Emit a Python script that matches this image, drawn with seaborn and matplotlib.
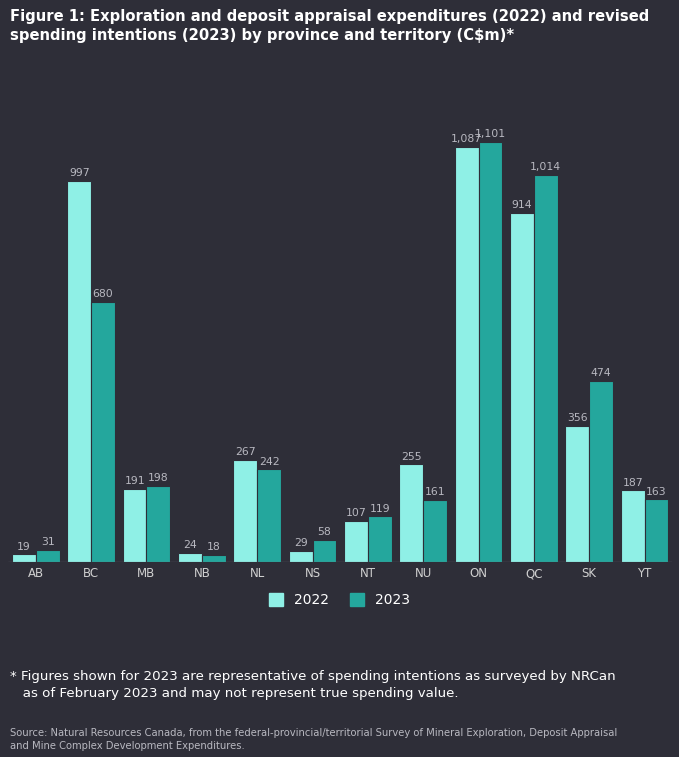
import matplotlib
matplotlib.use("Agg")
import matplotlib.pyplot as plt
import seaborn as sns
import pandas as pd

provinces = ["AB","BC","MB","NB","NL","NS","NT","NU","ON","QC","SK","YT"]
v2022 = [19,997,191,24,267,29,107,255,1087,914,356,187]
v2023 = [31,680,198,18,242,58,119,161,1101,1014,474,163]
years = ["2022","2023"]

df = pd.DataFrame({"prov": provinces*2, "year": ["2022"]*12+["2023"]*12, "val": v2022+v2023})

bg = "#2e2e38"
c22, c23 = "#8ff0e6", "#24a79d"
sns.set_style("dark")
plt.rcParams['font.family'] = ['DejaVu Sans']
fig = plt.figure(figsize=(6.79,7.57), dpi=100, facecolor=bg)
ax = fig.add_axes([0.012, 0.258, 0.978, 0.56])
ax.set_facecolor(bg)
sns.barplot(data=df, x="prov", y="val", hue="year", palette=[c22,c23], ax=ax,
            width=0.86, edgecolor=bg, linewidth=0.8, legend=False, saturation=1)
for cont in ax.containers:
    ax.bar_label(cont, labels=[f"{v:,.0f}" for v in cont.datavalues], padding=2,
                 fontsize=7.8, color="#b8b8c0")
ax.set_ylim(0, 1101*1.0+10)
ax.set_xlim(-0.5, 11.5)
ax.set_yticks([])
ax.set_xlabel(""); ax.set_ylabel("")
ax.tick_params(axis="x", colors="#d0d0d0", labelsize=8.5, length=0, pad=4)
for s in ax.spines.values(): s.set_visible(False)
ax.axhline(0, color="#bbbbbb", lw=0.8)
ax.grid(False)

from matplotlib.patches import Patch
fig.legend(handles=[Patch(color=c22,label="2022"),Patch(color=c23,label="2023")],
           loc="center", bbox_to_anchor=(0.5, 0.207), ncol=2, frameon=False,
           labelcolor="white", fontsize=10, handlelength=1.0, handleheight=1.0,
           columnspacing=1.5)

fig.text(0.015, 0.988, "Figure 1: Exploration and deposit appraisal expenditures (2022) and revised\nspending intentions (2023) by province and territory (C$m)*",
         color="white", fontsize=10.6, fontweight="bold", va="top", linespacing=1.3)
fig.text(0.015, 0.115, "* Figures shown for 2023 are representative of spending intentions as surveyed by NRCan\n   as of February 2023 and may not represent true spending value.",
         color="white", fontsize=9.6, va="top", linespacing=1.45)
fig.text(0.015, 0.038, "Source: Natural Resources Canada, from the federal-provincial/territorial Survey of Mineral Exploration, Deposit Appraisal\nand Mine Complex Development Expenditures.",
         color="#b8b8c0", fontsize=7.2, va="top", linespacing=1.3)
fig.savefig("out.png", facecolor=bg)
